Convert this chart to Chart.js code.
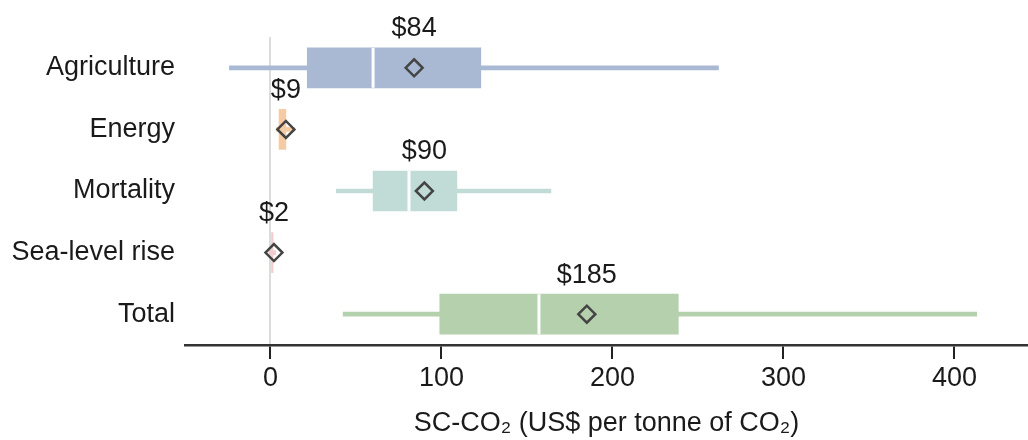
<!DOCTYPE html>
<html>
<head>
<meta charset="utf-8">
<script src="https://cdn.jsdelivr.net/npm/chart.js@4.4.1/dist/chart.umd.min.js"></script>
<style>
  html, body { margin: 0; padding: 0; background: #fff; }
  #wrap { width: 1028px; height: 440px; }
</style>
</head>
<body>
<div id="wrap"><canvas id="chart"></canvas></div>
<script>
// values (US$ per tonne of CO2)
var categories = ['Agriculture', 'Energy', 'Mortality', 'Sea-level rise', 'Total'];
var whiskerLow = [-24, 3.5, 38.5, -1, 42.5];
var whiskerHigh = [262, 14, 164, 3, 413];
var boxLow = [21.5, 5, 60, 0, 99];
var boxHigh = [123, 9, 109, 1.5, 238.5];
var medians = [60, null, 81, null, 157];
var means = [84, 9, 90, 2, 185];
var xTicks = [0, 100, 200, 300, 400];

var boxColors = ['#a9b9d3', '#f6cba3', '#c1dcd7', '#f2cccc', '#b5d0ad'];
var font = '"Liberation Sans", Arial, Helvetica, sans-serif';
var textColor = '#1a1a1a';

var whiskers = [], boxes = [], meanPoints = [];
for (var i = 0; i < categories.length; i++) {
	whiskers.push([whiskerLow[i], whiskerHigh[i]]);
	boxes.push([boxLow[i], boxHigh[i]]);
	meanPoints.push({x: means[i], y: categories[i]});
}

// white median strokes and the "$" labels above each mean
var extras = {
	id: 'extras',
	afterDatasetsDraw: function(chart) {
		var ctx = chart.ctx;
		var xs = chart.scales.x, ys = chart.scales.y;
		ctx.save();
		ctx.strokeStyle = '#ffffff';
		ctx.lineWidth = 3;
		for (var i = 0; i < categories.length; i++) {
			if (medians[i] === null) continue;
			var mx = xs.getPixelForValue(medians[i]);
			var cy = ys.getPixelForValue(i);
			ctx.beginPath();
			ctx.moveTo(mx, cy - 20);
			ctx.lineTo(mx, cy + 20);
			ctx.stroke();
		}
		ctx.fillStyle = textColor;
		ctx.font = '27px ' + font;
		ctx.textAlign = 'center';
		ctx.textBaseline = 'middle';
		for (var j = 0; j < categories.length; j++) {
			ctx.fillText('$' + means[j], xs.getPixelForValue(means[j]), ys.getPixelForValue(j) - 39);
		}
		ctx.restore();
	}
};

var chart = new Chart(document.getElementById('chart').getContext('2d'), {
	type: 'bar',
	data: {
		labels: categories,
		datasets: [{
			data: whiskers,
			backgroundColor: boxColors,
			barThickness: 4,
			grouped: false,
			order: 3
		}, {
			data: boxes,
			backgroundColor: boxColors,
			barThickness: 40,
			grouped: false,
			order: 2
		}, {
			type: 'line',
			data: meanPoints,
			showLine: false,
			pointStyle: 'rectRot',
			pointRadius: 8.5,
			pointBorderWidth: 2.5,
			pointBorderColor: '#444444',
			pointBackgroundColor: 'rgba(0,0,0,0)',
			order: 1
		}]
	},
	options: {
		indexAxis: 'y',
		responsive: true,
		maintainAspectRatio: false,
		animation: false,
		layout: { autoPadding: false, padding: { top: 37, right: 0, left: 0, bottom: 0 } },
		plugins: {
			legend: { display: false },
			tooltip: { enabled: false }
		},
		scales: {
			x: {
				type: 'linear',
				min: -50,
				max: 443,
				afterBuildTicks: function(scale) {
					scale.ticks = xTicks.map(function(v){ return {value: v}; });
				},
				afterFit: function(scale) {
					scale.height = 95;
					scale.paddingLeft = 0;
					scale.paddingRight = 0;
				},
				grid: {
					color: function(c) { return c.tick && c.tick.value === 0 ? '#dcdcdc' : 'rgba(0,0,0,0)'; },
					lineWidth: 2,
					tickColor: '#222',
					tickLength: 14,
					tickWidth: 2
				},
				border: { display: true, color: '#333', width: 2.5 },
				ticks: {
					font: { family: font, size: 27 },
					color: textColor,
					padding: 3
				},
				title: {
					display: true,
					text: 'SC-CO\u2082 (US$ per tonne of CO\u2082)',
					font: { family: font, size: 27 },
					color: textColor,
					padding: { top: 4, bottom: 0 }
				}
			},
			y: {
				type: 'category',
				afterFit: function(scale) { scale.width = 185; },
				grid: { display: false, drawTicks: false },
				border: { display: false },
				ticks: {
					font: { family: font, size: 27 },
					color: textColor,
					padding: 10
				}
			}
		}
	},
	plugins: [extras]
});
</script>
</body>
</html>
